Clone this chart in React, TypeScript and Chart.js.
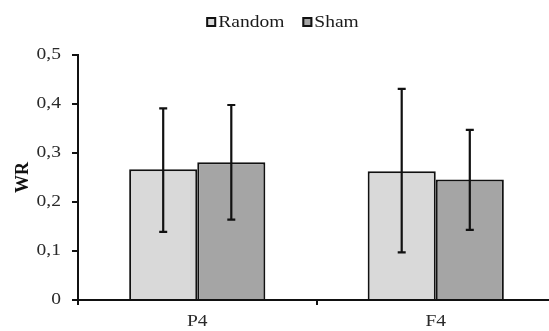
import React, { useEffect, useRef } from "react";
import { Chart, registerables } from "chart.js";

Chart.register(...registerables);

const categories = ["P4", "F4"];
const seriesNames = ["Random", "Sham"];
const randomValues = [0.267, 0.263];
const randomLow = [0.139, 0.097];
const randomHigh = [0.391, 0.431];
const shamValues = [0.281, 0.246];
const shamLow = [0.164, 0.143];
const shamHigh = [0.398, 0.347];
const yTicks = [0, 0.1, 0.2, 0.3, 0.4, 0.5];

const errorLows = [randomLow, shamLow];
const errorHighs = [randomHigh, shamHigh];
const seriesColors = ["#d9d9d9", "#a5a5a5"];

const FONT = "'Liberation Serif', 'Times New Roman', serif";
const TEXT_SX = 1.22; // horizontal stretch of the reference's lettering

const errorBarPlugin = {
  id: "errorBars",
  afterDatasetsDraw(chart: any) {
    const ctx = chart.ctx;
    const yScale = chart.scales.y;
    ctx.save();
    ctx.strokeStyle = "#111";
    ctx.lineWidth = 2.2;
    chart.data.datasets.forEach((_ds: any, di: number) => {
      const meta = chart.getDatasetMeta(di);
      meta.data.forEach((bar: any, i: number) => {
        const x = bar.x;
        const yLo = yScale.getPixelForValue(errorLows[di][i]);
        const yHi = yScale.getPixelForValue(errorHighs[di][i]);
        ctx.beginPath();
        ctx.moveTo(x, yLo);
        ctx.lineTo(x, yHi);
        ctx.moveTo(x - 4, yLo);
        ctx.lineTo(x + 4, yLo);
        ctx.moveTo(x - 4, yHi);
        ctx.lineTo(x + 4, yHi);
        ctx.stroke();
      });
    });
    ctx.restore();
  },
};

const customLegendPlugin = {
  id: "customLegend",
  afterDraw(chart: any) {
    const ctx = chart.ctx;
    ctx.save();
    ctx.font = `16px ${FONT}`;
    const box = 10;
    const gapBoxText = 2;
    const gapItems = 18;
    const widths = seriesNames.map((n) => ctx.measureText(n).width * TEXT_SX);
    const total =
      widths.reduce((a, w) => a + box + gapBoxText + w, 0) + gapItems * (seriesNames.length - 1);
    let x = 282.5 - total / 2;
    const cy = 22;
    seriesNames.forEach((name, i) => {
      ctx.fillStyle = seriesColors[i];
      ctx.fillRect(x, cy - box / 2, box, box);
      ctx.strokeStyle = "#111";
      ctx.lineWidth = 2;
      ctx.strokeRect(x + 1, cy - box / 2 + 1, box - 2, box - 2);
      ctx.fillStyle = "#1a1a1a";
      ctx.textAlign = "left";
      ctx.textBaseline = "middle";
      ctx.fillText(name, x + box + gapBoxText, cy + 1);
      x += box + gapBoxText + widths[i] + gapItems;
    });
    ctx.restore();
  },
};

function patchText(ctx: any) {
  const orig = ctx.fillText;
  ctx.fillText = function (t: string, x: number, y: number, mw?: number) {
    const m = this.getTransform();
    if (Math.abs(m.b) > 1e-6 || Math.abs(m.c) > 1e-6) {
      return mw === undefined ? orig.call(this, t, x, y) : orig.call(this, t, x, y, mw);
    }
    this.save();
    this.translate(x, y);
    this.scale(TEXT_SX, 1);
    if (mw === undefined) orig.call(this, t, 0, 0);
    else orig.call(this, t, 0, 0, mw / TEXT_SX);
    this.restore();
  };
}

export default function App() {
  const ref = useRef<HTMLCanvasElement>(null);
  useEffect(() => {
    if (!ref.current) return;
    const ctx2d = ref.current.getContext("2d");
    if (ctx2d) patchText(ctx2d);
    const chart = new Chart(ref.current, {
      type: "bar",
      data: {
        labels: categories,
        datasets: [
          {
            label: seriesNames[0],
            data: randomValues,
            backgroundColor: seriesColors[0],
            borderColor: "#111",
            borderWidth: 2,
            categoryPercentage: 0.571,
            barPercentage: 1,
          },
          {
            label: seriesNames[1],
            data: shamValues,
            backgroundColor: seriesColors[1],
            borderColor: "#111",
            borderWidth: 2,
            categoryPercentage: 0.571,
            barPercentage: 1,
          },
        ],
      },
      options: {
        animation: false,
        responsive: false,
        maintainAspectRatio: false,
        layout: { padding: { top: 55, left: 0, right: 0, bottom: 0 } },
        plugins: {
          legend: { display: false },
          tooltip: { enabled: false },
        },
        scales: {
          x: {
            grid: {
              display: true,
              drawOnChartArea: false,
              drawTicks: true,
              tickLength: 5,
              color: "#111",
              lineWidth: 2,
              offset: true,
            },
            border: { display: true, color: "#111", width: 2 },
            ticks: {
              color: "#2a2a2a",
              padding: 7,
              font: { family: FONT, size: 16 },
            },
            afterFit(scale: any) {
              scale.height = 31;
            },
          },
          y: {
            min: 0,
            max: 0.5,
            afterBuildTicks(scale: any) {
              scale.ticks = yTicks.map((v) => ({ value: v }));
            },
            grid: {
              display: true,
              drawOnChartArea: false,
              drawTicks: true,
              tickLength: 6,
              color: "#111",
              lineWidth: 2,
            },
            border: { display: true, color: "#111", width: 2 },
            ticks: {
              color: "#2a2a2a",
              padding: 11,
              font: { family: FONT, size: 16 },
              callback: (v: any) =>
                Number(v) === 0 ? "0" : Number(v).toFixed(1).replace(".", ","),
            },
            title: {
              display: true,
              text: "WR",
              color: "#111",
              font: { family: FONT, size: 18, weight: "bold" },
              padding: { top: 13, bottom: 0 },
            },
            afterFit(scale: any) {
              scale.width = 78;
            },
          },
        },
      },
      plugins: [errorBarPlugin, customLegendPlugin],
    });
    return () => chart.destroy();
  }, []);
  return (
    <div style={{ position: "fixed", left: 0, top: 0, width: 555, height: 331, background: "#fff" }}>
      <canvas ref={ref} width={555} height={331} style={{ display: "block" }} />
    </div>
  );
}
